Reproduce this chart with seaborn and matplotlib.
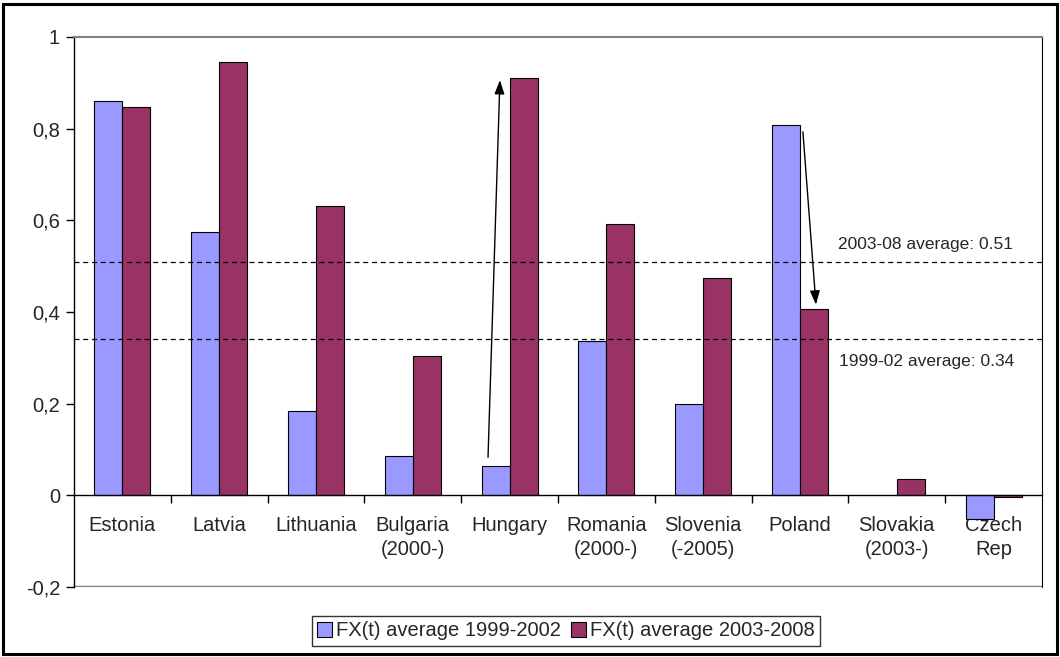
import matplotlib
matplotlib.use("Agg")
import matplotlib.pyplot as plt
from matplotlib.patches import Patch, Rectangle
from matplotlib.ticker import FuncFormatter, FixedLocator
import numpy as np
import pandas as pd
import seaborn as sns

countries = ["Estonia", "Latvia", "Lithuania", "Bulgaria\n(2000-)", "Hungary",
             "Romania\n(2000-)", "Slovenia\n(-2005)", "Poland", "Slovakia\n(2003-)",
             "Czech\nRep"]
fx_1999_2002 = [0.861, 0.575, 0.185, 0.085, 0.063, 0.336, 0.200, 0.808, np.nan, -0.052]
fx_2003_2008 = [0.847, 0.946, 0.632, 0.305, 0.911, 0.593, 0.475, 0.407, 0.035, -0.003]
series_names = ["FX(t) average 1999-2002", "FX(t) average 2003-2008"]
avg_1999_2002 = 0.34
avg_2003_2008 = 0.51
y_ticks = [-0.2, 0, 0.2, 0.4, 0.6, 0.8, 1.0]

colors = ["#9999FF", "#993366"]

sns.set_theme(style="white")
plt.rcParams["font.family"] = ["Liberation Sans", "DejaVu Sans"]

df = pd.DataFrame({
    "country": countries * 2,
    "value": fx_1999_2002 + fx_2003_2008,
    "period": [series_names[0]] * len(countries) + [series_names[1]] * len(countries),
})

fig = plt.figure(figsize=(10.6, 6.57), dpi=100)
ax = fig.add_axes([74 / 1060, 1 - 587 / 657, (1042 - 74) / 1060, (587 - 37) / 657])

sns.barplot(data=df, x="country", y="value", hue="period", order=countries,
            hue_order=series_names, palette=colors, width=0.58, errorbar=None,
            edgecolor="black", linewidth=0.8, saturation=1, legend=False, ax=ax)

ax.set_xlim(-0.5, len(countries) - 0.5)
ax.set_ylim(-0.2, 1.0)
ax.set_xlabel("")
ax.set_ylabel("")

# axis frame: x axis through zero, gray top/bottom borders
ax.spines["bottom"].set_position(("data", 0))
ax.spines["bottom"].set_color("black")
ax.spines["bottom"].set_linewidth(1.0)
ax.spines["left"].set_color("black")
ax.spines["left"].set_linewidth(1.0)
ax.spines["right"].set_color("black")
ax.spines["right"].set_linewidth(0.8)
ax.spines["top"].set_color("#808080")
ax.spines["top"].set_linewidth(1.5)
ax.axhline(-0.2, color="#808080", linewidth=2.5, zorder=0.5)

ax.yaxis.set_major_locator(FixedLocator(y_ticks))
ax.yaxis.set_major_formatter(FuncFormatter(
    lambda v, p: ("%g" % round(v, 1)).replace(".", ",")))
ax.tick_params(axis="y", which="major", direction="out", length=6, width=1,
               color="black", labelsize=14.5, pad=4, left=True)

ax.set_xticks(range(len(countries)))
ax.set_xticklabels(countries, fontsize=14.5, linespacing=1.3)
ax.set_xticks(np.arange(0.5, len(countries) - 0.5, 1), minor=True)
ax.tick_params(axis="x", which="major", length=0, pad=15)
ax.tick_params(axis="x", which="minor", direction="out", length=6, width=1,
               color="black", bottom=True)

# period averages
ax.axhline(avg_2003_2008, color="black", linewidth=0.9, linestyle=(0, (4, 3)))
ax.axhline(avg_1999_2002, color="black", linewidth=0.9, linestyle=(0, (4, 3)))
ax.text(7.39, 0.547, "2003-08 average: %.2f" % avg_2003_2008, fontsize=12.5,
        va="center", ha="left")
ax.text(7.40, 0.292, "1999-02 average: %.2f" % avg_1999_2002, fontsize=12.5,
        va="center", ha="left")

# shifts between periods
arrow_style = dict(arrowstyle="-|>,head_length=0.7,head_width=0.25",
                   color="black", linewidth=1.0, shrinkA=0, shrinkB=0)
ax.annotate("", xy=(3.90, 0.906), xytext=(3.777, 0.083), arrowprops=arrow_style)
ax.annotate("", xy=(7.165, 0.416), xytext=(7.03, 0.793), arrowprops=arrow_style)

handles = [Patch(facecolor=c, edgecolor="black", linewidth=0.8) for c in colors]
leg = fig.legend(handles, series_names, loc="center",
                 bbox_to_anchor=(566 / 1060, 1 - 631 / 657), ncol=2, fontsize=14.5,
                 frameon=True, fancybox=False, shadow=False, handlelength=0.75,
                 handleheight=0.75, handletextpad=0.2, columnspacing=0.5,
                 borderpad=0.25, borderaxespad=0)
leg.get_frame().set_edgecolor("black")
leg.get_frame().set_linewidth(1.0)

# outer chart border
fig.patches.append(Rectangle((3 / 1060, 3 / 657), 1054 / 1060, 650 / 657,
                             transform=fig.transFigure, fill=False,
                             edgecolor="black", linewidth=2.2))

fig.savefig("out.png", dpi=100)
